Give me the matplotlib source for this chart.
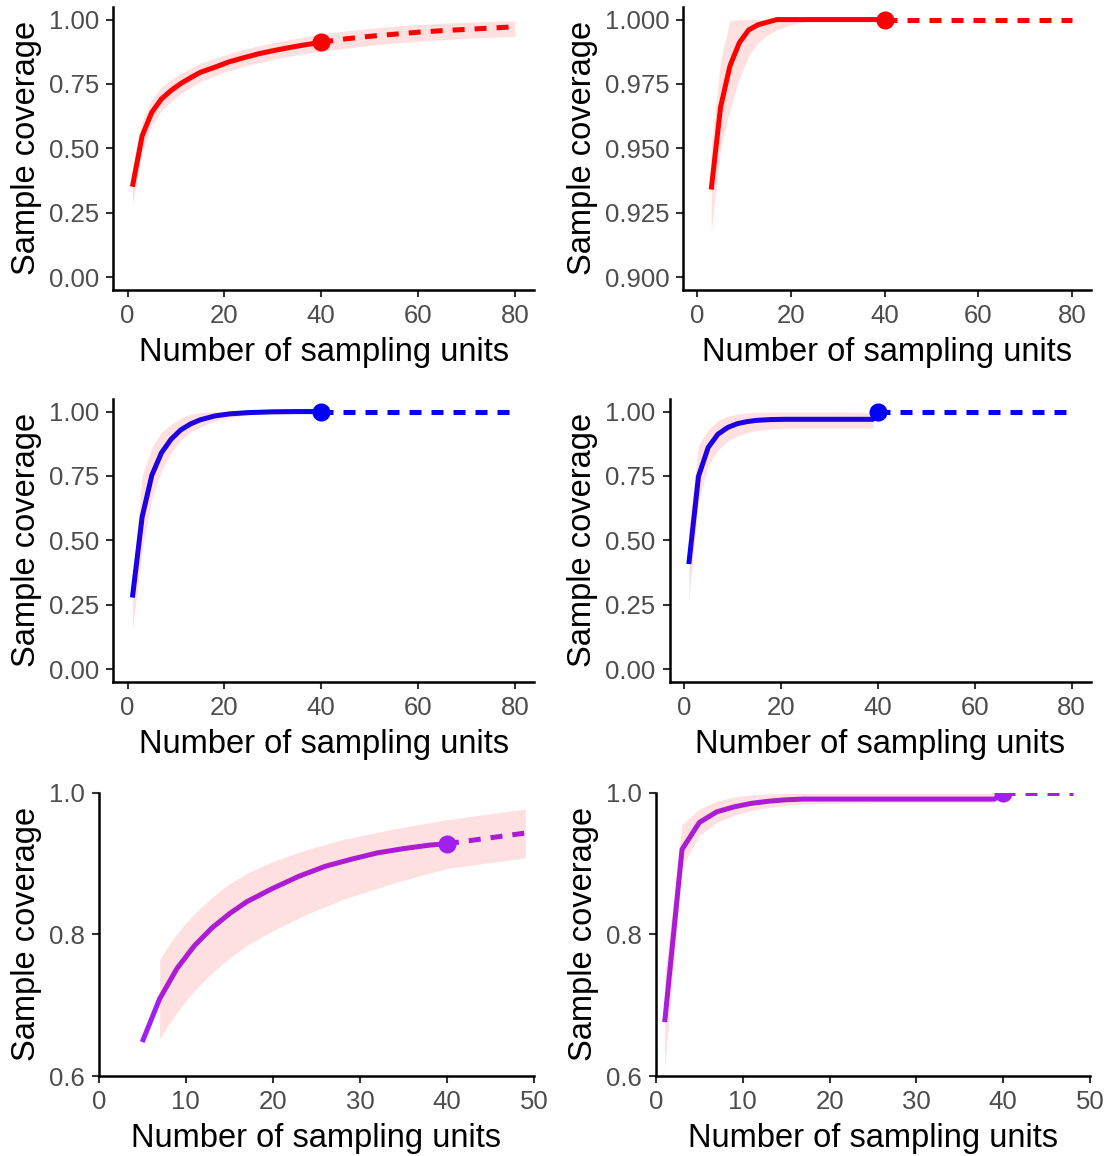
import matplotlib
matplotlib.use("Agg")
import matplotlib.pyplot as plt

plt.rcParams["font.family"] = ["Liberation Sans", "DejaVu Sans"]

# panel 1 (red, 0..1)
x1 = [1, 3, 5, 7, 9, 11, 13, 15, 18, 21, 24, 27, 30, 33, 36, 40]
y1 = [0.351, 0.548, 0.640, 0.692, 0.725, 0.752, 0.774, 0.795, 0.815, 0.836, 0.852, 0.867, 0.879, 0.890, 0.900, 0.912]
x1e = [40, 45, 50, 55, 60, 65, 70, 75, 80]
y1e = [0.912, 0.925, 0.935, 0.943, 0.951, 0.957, 0.962, 0.967, 0.972]
x1r = [1, 3, 5, 7, 9, 11, 13, 15, 18, 21, 24, 27, 30, 33, 36, 40, 50, 60, 70, 80]
lo1 = [0.28, 0.49, 0.59, 0.645, 0.683, 0.713, 0.737, 0.759, 0.781, 0.802, 0.818, 0.832, 0.845, 0.856, 0.866, 0.877, 0.900, 0.916, 0.927, 0.935]
hi1 = [0.42, 0.605, 0.69, 0.738, 0.767, 0.791, 0.811, 0.831, 0.849, 0.868, 0.884, 0.898, 0.910, 0.921, 0.931, 0.945, 0.966, 0.981, 0.990, 0.995]

# panel 2 (red, zoomed)
x2 = [3, 5, 7, 9, 11, 13, 15, 17, 20, 25, 30, 35, 40]
y2 = [0.934, 0.966, 0.982, 0.991, 0.996, 0.998, 0.999, 1.0, 1.0, 1.0, 1.0, 1.0, 1.0]
x2e = [40, 80]
y2e = [1.0, 1.0]
x2r = [3, 5, 7, 9, 11, 13, 15, 17, 20, 25, 30, 35, 40, 80]
lo2 = [0.917, 0.950, 0.965, 0.977, 0.986, 0.991, 0.994, 0.996, 0.998, 1.0, 1.0, 1.0, 1.0, 1.0]
hi2 = [0.950, 0.984, 0.9995, 1.0, 1.0, 1.0, 1.0, 1.0, 1.0, 1.0, 1.0, 1.0, 1.0, 1.0]

# panel 3 (blue)
x3 = [1, 3, 5, 7, 9, 11, 13, 15, 18, 21, 25, 30, 35, 40]
y3 = [0.278, 0.590, 0.752, 0.840, 0.893, 0.929, 0.952, 0.968, 0.983, 0.991, 0.996, 0.999, 1.0, 1.0]
x3e = [40, 80]
y3e = [1.0, 1.0]
x3r = [1, 3, 5, 7, 9, 11, 13, 15, 18, 21, 25, 30, 35, 40, 80]
lo3 = [0.15, 0.46, 0.66, 0.77, 0.84, 0.89, 0.92, 0.94, 0.963, 0.977, 0.988, 0.995, 0.998, 1.0, 1.0]
hi3 = [0.34, 0.75, 0.86, 0.92, 0.95, 0.975, 0.99, 0.997, 1.0, 1.0, 1.0, 1.0, 1.0, 1.0, 1.0]

# panel 4 (blue)
x4 = [1, 3, 5, 7, 9, 11, 13, 15, 18, 21, 25, 30, 35, 39, 40]
y4 = [0.408, 0.749, 0.861, 0.912, 0.938, 0.953, 0.961, 0.966, 0.969, 0.970, 0.970, 0.970, 0.970, 0.970, 1.0]
x4e = [40, 80]
y4e = [1.0, 1.0]
x4r = [1, 3, 5, 7, 9, 11, 13, 15, 18, 21, 25, 30, 35, 39]
lo4 = [0.27, 0.65, 0.79, 0.85, 0.885, 0.905, 0.918, 0.926, 0.932, 0.935, 0.936, 0.936, 0.936, 0.936]
hi4 = [0.55, 0.87, 0.93, 0.965, 0.982, 0.99, 0.995, 0.997, 0.998, 0.999, 0.999, 0.999, 0.998, 0.995]

# panel 5 (purple)
x5 = [5, 7, 9, 11, 13, 15, 17, 20, 23, 26, 29, 32, 35, 38, 40]
y5 = [0.648, 0.709, 0.752, 0.784, 0.809, 0.829, 0.846, 0.865, 0.882, 0.896, 0.906, 0.915, 0.921, 0.926, 0.928]
x5e = [40, 43, 46, 49]
y5e = [0.928, 0.933, 0.938, 0.943]
x5r = [7, 8, 9, 10, 11, 12, 13, 14, 15, 17, 20, 24, 28, 34, 40, 49]
lo5 = [0.652, 0.672, 0.690, 0.706, 0.720, 0.733, 0.745, 0.756, 0.766, 0.784, 0.805, 0.829, 0.849, 0.873, 0.893, 0.908]
hi5 = [0.764, 0.784, 0.801, 0.816, 0.829, 0.841, 0.852, 0.862, 0.871, 0.886, 0.903, 0.920, 0.934, 0.949, 0.962, 0.977]

# panel 6 (purple)
x6 = [1, 3, 5, 7, 9, 11, 13, 15, 17, 20, 25, 30, 35, 39, 40]
y6 = [0.676, 0.920, 0.958, 0.973, 0.980, 0.985, 0.988, 0.990, 0.991, 0.991, 0.991, 0.991, 0.991, 0.991, 1.0]
x6e = [40, 48]
y6e = [1.0, 1.0]
x6r = [1, 3, 5, 7, 9, 11, 13, 15, 17, 20, 25, 30, 35, 39]
lo6 = [0.61, 0.895, 0.94, 0.958, 0.968, 0.975, 0.979, 0.982, 0.984, 0.985, 0.986, 0.986, 0.986, 0.986]
hi6 = [0.74, 0.955, 0.977, 0.988, 0.994, 0.997, 0.998, 0.999, 0.999, 0.999, 0.999, 0.999, 0.999, 0.999]

RED, BLUE, PURPLE = "#FF0000", "#0000FF", "#A020F0"

W, H = 1113, 1156
fig = plt.figure(figsize=(W / 100, H / 100), dpi=100)


def box(left, right, top, bottom):
    return [left / W, 1 - bottom / H, (right - left) / W, (bottom - top) / H]


panels = [
    dict(pos=box(113.3, 534, 6.7, 290), col=RED, obs=(x1, y1), ext=(x1e, y1e), rib=(x1r, lo1, hi1),
         xlim=(-2.95, 83.95), ylim=(-0.05, 1.05), xt=[0, 20, 40, 60, 80],
         yt=[0, 0.25, 0.5, 0.75, 1.0], fmt="{:.2f}"),
    dict(pos=box(683.3, 1090.7, 6.7, 290), col=RED, obs=(x2, y2), ext=(x2e, y2e), rib=(x2r, lo2, hi2),
         xlim=(-2.95, 83.95), ylim=(0.895, 1.005), xt=[0, 20, 40, 60, 80],
         yt=[0.9, 0.925, 0.95, 0.975, 1.0], fmt="{:.3f}"),
    dict(pos=box(113.3, 534, 398.7, 682), col=BLUE, obs=(x3, y3), ext=(x3e, y3e), rib=(x3r, lo3, hi3),
         xlim=(-2.95, 83.95), ylim=(-0.05, 1.05), xt=[0, 20, 40, 60, 80],
         yt=[0, 0.25, 0.5, 0.75, 1.0], fmt="{:.2f}"),
    dict(pos=box(669.7, 1090.7, 398.7, 682), col=BLUE, obs=(x4, y4), ext=(x4e, y4e), rib=(x4r, lo4, hi4),
         xlim=(-2.95, 83.95), ylim=(-0.05, 1.05), xt=[0, 20, 40, 60, 80],
         yt=[0, 0.25, 0.5, 0.75, 1.0], fmt="{:.2f}"),
    dict(pos=box(98.7, 534, 792.7, 1076), col=PURPLE, obs=(x5, y5), ext=(x5e, y5e), rib=(x5r, lo5, hi5),
         xlim=(0, 50), ylim=(0.6, 1.0), xt=[0, 10, 20, 30, 40, 50],
         yt=[0.6, 0.8, 1.0], fmt="{:.1f}"),
    dict(pos=box(656, 1090, 792.7, 1076), col=PURPLE, obs=(x6, y6), ext=(x6e, y6e), rib=(x6r, lo6, hi6),
         xlim=(0, 50), ylim=(0.6, 1.0), xt=[0, 10, 20, 30, 40, 50],
         yt=[0.6, 0.8, 1.0], fmt="{:.1f}"),
]

for p in panels:
    ax = fig.add_axes(p["pos"])
    col = p["col"]
    ax.plot(*p["obs"], color=col, lw=3.6, solid_capstyle="butt", zorder=2)
    ax.plot(*p["ext"], color=col, lw=3.6, linestyle=(0, (2.4, 2.0)), dash_capstyle="butt", zorder=2)
    xr, lo, hi = p["rib"]
    ax.fill_between(xr, lo, hi, color=RED, alpha=0.12, lw=0, zorder=3)
    ax.plot([p["obs"][0][-1]], [p["obs"][1][-1]], "o", color=col, ms=13, mew=0, zorder=4)

    ax.set_xlim(*p["xlim"])
    ax.set_ylim(*p["ylim"])
    ax.set_xticks(p["xt"])
    ax.set_yticks(p["yt"])
    ax.set_yticklabels([p["fmt"].format(v) for v in p["yt"]])
    for s in ["top", "right"]:
        ax.spines[s].set_visible(False)
    for s in ["left", "bottom"]:
        ax.spines[s].set_linewidth(1.8)
        ax.spines[s].set_color("black")
    ax.tick_params(length=5.2, width=1.5, color="#333333", labelcolor="#4D4D4D",
                   labelsize=18.5, pad=5)
    ax.set_xlabel("Number of sampling units", fontsize=23.5, color="black", labelpad=6)
    ax.set_ylabel("Sample coverage", fontsize=23.5, color="black", labelpad=5)
    ax.patch.set_alpha(0)

fig.savefig("out.png", dpi=100)
